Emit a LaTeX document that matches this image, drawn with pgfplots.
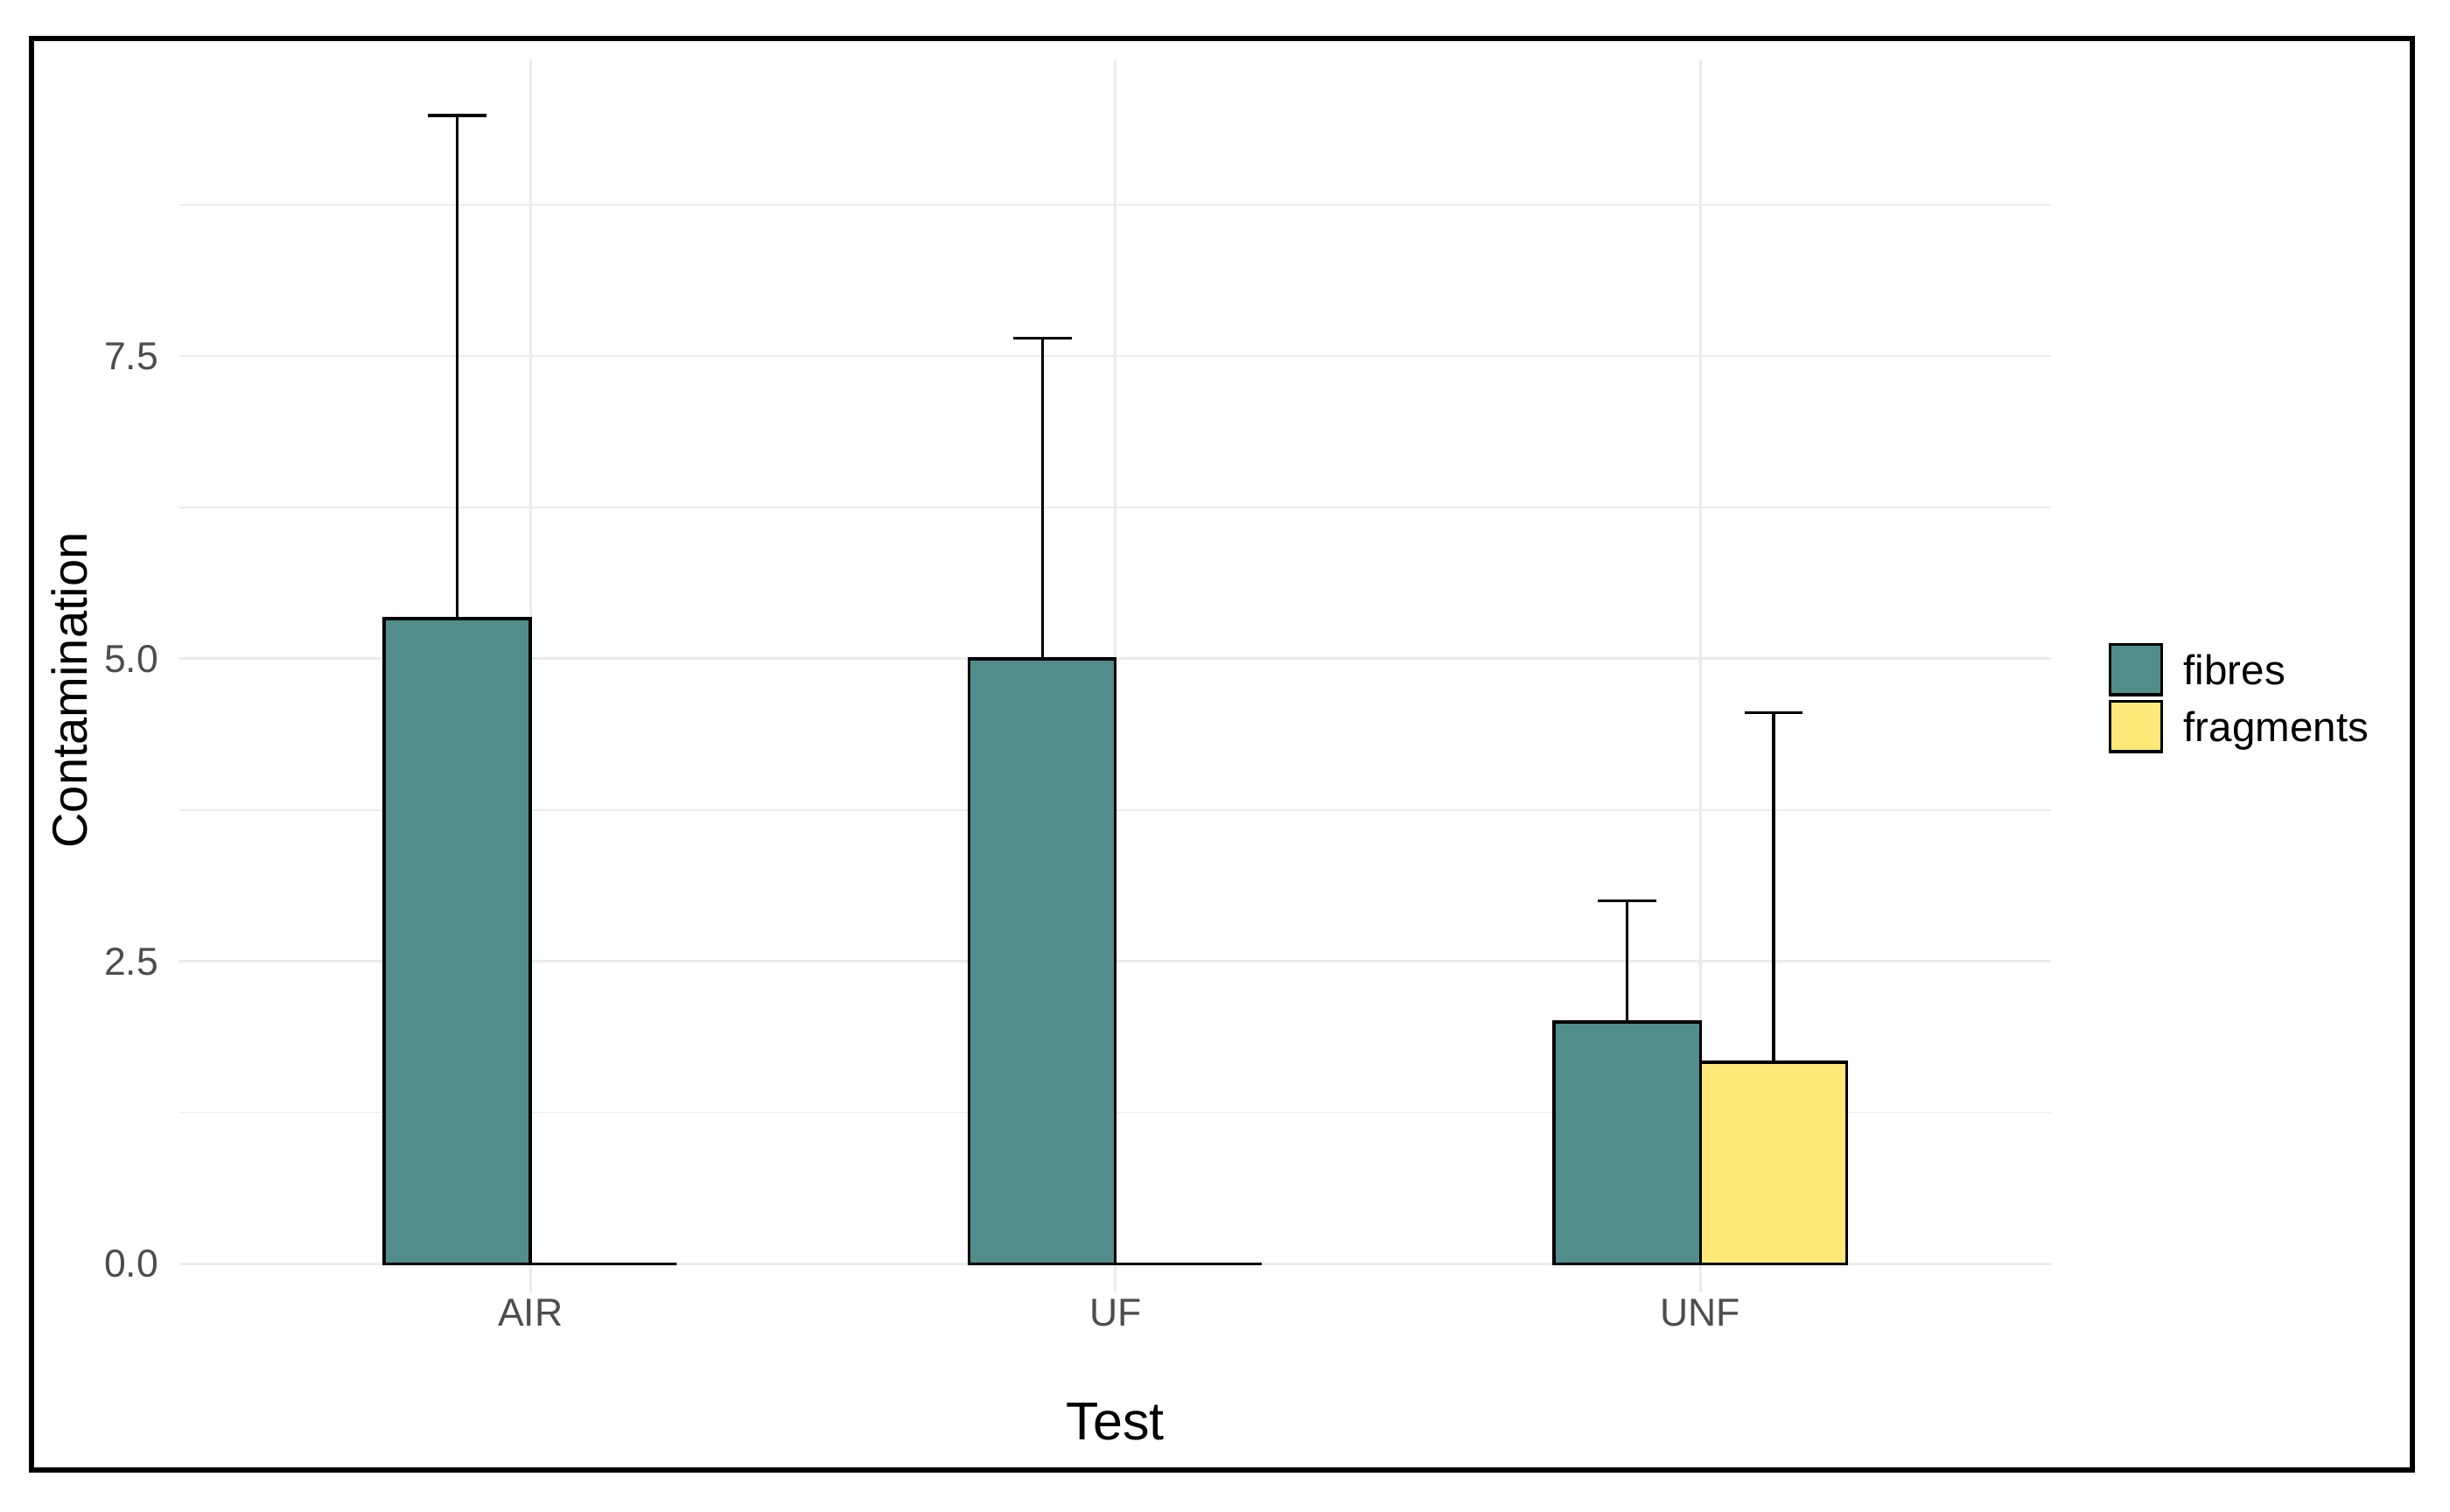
\documentclass[border=0pt]{standalone}
\usepackage{fontspec}
\setmainfont{Liberation Sans}
\usepackage{pgfplots}
\pgfplotsset{compat=1.18}
\definecolor{teal1}{HTML}{528D8C}
\definecolor{yell1}{HTML}{FEE878}
\definecolor{gridc}{HTML}{EBEBEB}
\definecolor{tickc}{HTML}{4D4D4D}
\begin{document}
\begin{tikzpicture}
\path[use as bounding box, fill=white] (0pt,0pt) rectangle (560pt,345.6pt);
\begin{axis}[
  at={(41pt,50.2pt)}, anchor=south west,
  scale only axis, width=427.9pt, height=281.8pt,
  xmin=0.4, xmax=3.6, ymin=-0.234, ymax=9.95,
  xtick={1,2,3}, xticklabels={AIR,UF,UNF},
  ytick={0,2.5,5,7.5}, yticklabels={0.0,2.5,5.0,7.5},
  minor ytick={1.25,3.75,6.25,8.75},
  xmajorgrids, ymajorgrids, yminorgrids,
  major grid style={gridc, line width=0.55pt},
  minor grid style={gridc, line width=0.3pt},
  axis line style={draw=none},
  major tick length=0pt, minor tick length=0pt,
  tick style={draw=none},
  xticklabel style={font=\fontsize{8.9}{10}\selectfont, text=tickc, anchor=base, inner sep=0pt, yshift=-7.6pt},
  yticklabel style={font=\fontsize{8.9}{10}\selectfont, text=tickc, anchor=east, inner sep=0pt, xshift=-4.6pt},
  xlabel={Test}, ylabel={Contamination},
  every axis x label/.style={at={([yshift=-33.6pt]axis description cs:0.5,0)}, anchor=base, inner sep=0pt, font=\fontsize{12.2}{14}\selectfont},
  every axis y label/.style={at={([xshift=-21pt]axis description cs:0,0.4883)}, rotate=90, anchor=base, inner sep=0pt, font=\fontsize{11.2}{13}\selectfont},
  legend style={at={(1.0304,0.5278)}, anchor=north west, draw=none, fill=none, inner sep=0pt, outer sep=0pt, row sep=0pt, column sep=0pt,
    nodes={inner sep=0pt, text height=9.9pt, text depth=3.1pt, font=\fontsize{9.5}{11}\selectfont, anchor=base west}},
  legend cell align=left,
]
\addplot[ybar, bar width=0.25, bar shift=0pt, fill=teal1, draw=black, line width=0.7pt,
  legend image code/.code={\draw[draw=black, fill=teal1, line width=0.7pt] (0.3pt,-2.2pt) rectangle (12.1pt,9.3pt); \path[draw=none, fill=none] (0pt,0pt) -- (17.2pt,0pt);},
  error bars/.cd, y dir=plus, y explicit,
  error bar style={line width=0.65pt, black},
  error mark options={rotate=90, line width=0.65pt, black, mark size=6.67pt}]
  table[x=x, y=y, y error=e] {
x y e
0.875 5.333 4.155
1.875 5.000 2.646
2.875 2.000 1.000
};
\addlegendentry{fibres}
\addplot[ybar, bar width=0.25, bar shift=0pt, fill=yell1, draw=black, line width=0.7pt,
  legend image code/.code={\draw[draw=black, fill=yell1, line width=0.7pt] (0.3pt,-2.2pt) rectangle (12.1pt,9.3pt); \path[draw=none, fill=none] (0pt,0pt) -- (17.2pt,0pt);},
  error bars/.cd, y dir=plus, y explicit,
  error bar style={line width=0.65pt, black},
  error mark options={rotate=90, line width=0.65pt, black, mark size=6.67pt}]
  table[x=x, y=y, y error=e] {
x y e
1.125 0.000 0.000
2.125 0.000 0.000
3.125 1.667 2.887
};
\addlegendentry{fragments}
\end{axis}
\draw[line width=1.2pt] (7.2pt,9.66pt) rectangle (551.4pt,336.7pt);
\end{tikzpicture}
\end{document}
